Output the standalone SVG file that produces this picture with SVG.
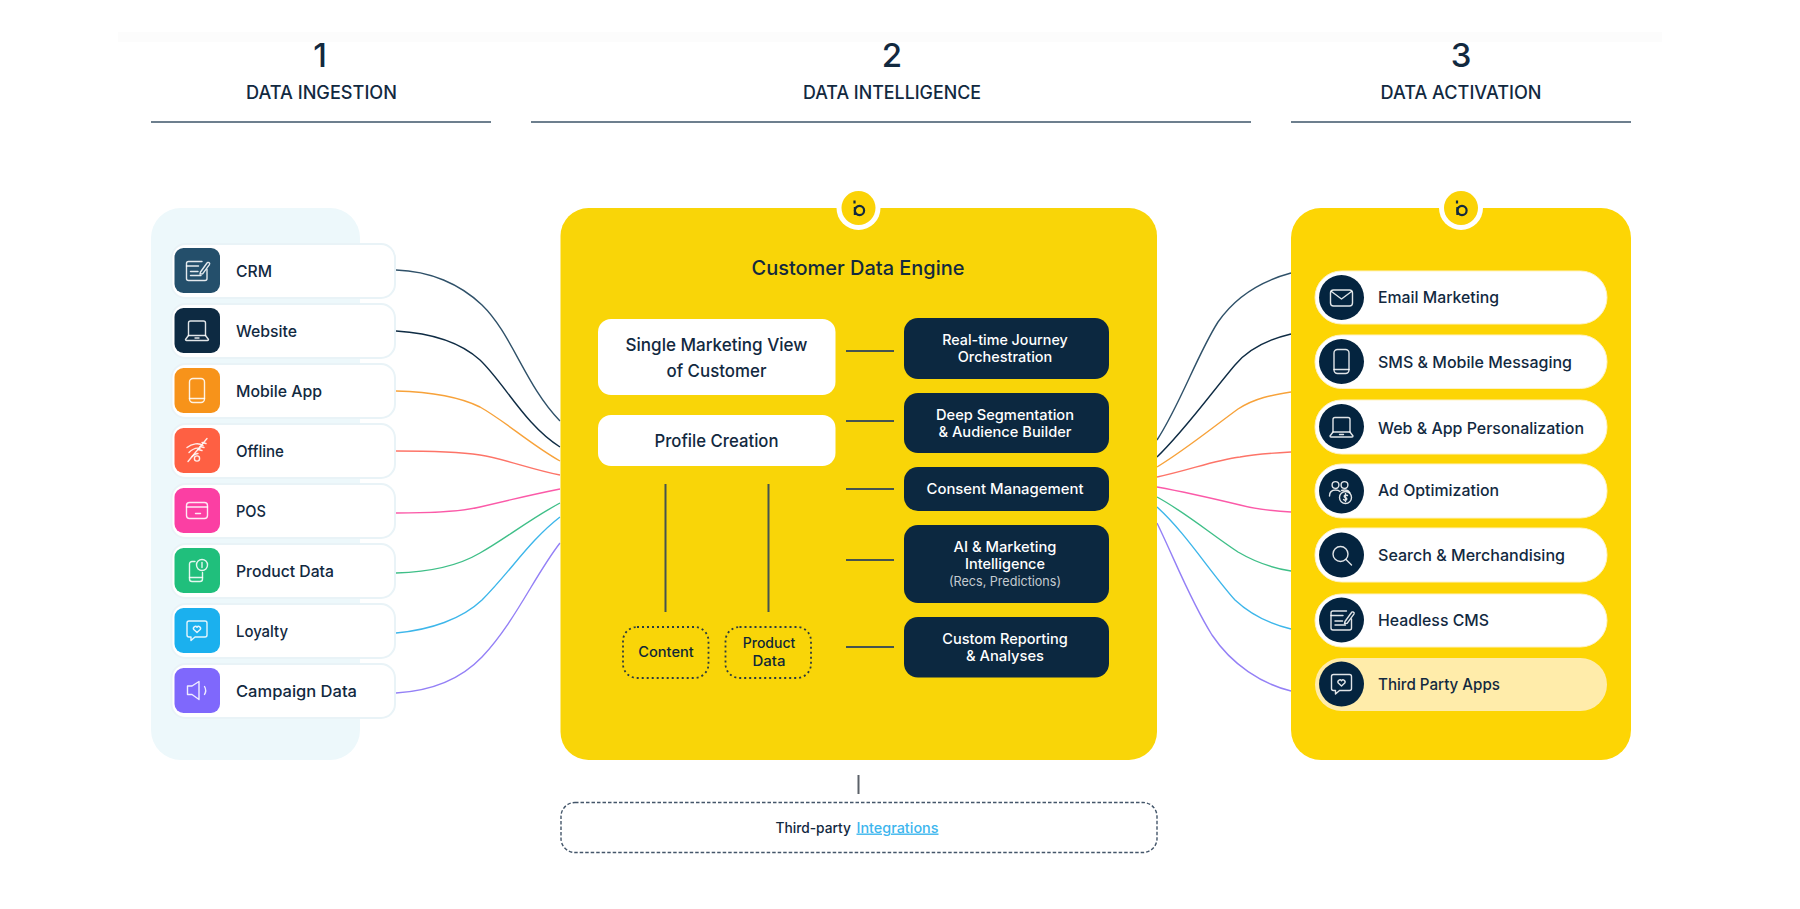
<svg xmlns="http://www.w3.org/2000/svg" xmlns:xlink="http://www.w3.org/1999/xlink" width="1800" height="909" viewBox="0 0 1800 909">
<style>
text{font-family:"Inter","Liberation Sans",sans-serif;font-weight:500;fill:#12293f}
.m{text-anchor:middle}
.num{font-size:33px}
.hd{font-size:18px}
.lb{font-size:16px}
.ttl{font-size:20px}
.wb{font-size:17.5px}
.dk{font-size:14.5px;fill:#fff}
.sm{font-size:14px;fill:#0f2738}
.hl{stroke:#6d7f8e;stroke-width:2;fill:none}
.card{fill:#fff;stroke:#e9f3f7;stroke-width:2}
.ico{fill:none;stroke:#fff;stroke-opacity:.88;stroke-width:1.4;stroke-linecap:round;stroke-linejoin:round}
.pill{fill:#fff;stroke:#fff3c4;stroke-width:1}
.dark{fill:#0c2840}
.wbox{fill:#fff}
.conn{fill:none;stroke-width:1.4}
.tick{stroke:#46544f;stroke-width:2;fill:none}
.dot{fill:none;stroke:#2b3a3f;stroke-width:1.8;stroke-dasharray:2 3}
</style>
<defs>
<g id="i-note" class="ico"><path d="M5 -9H-8.500a2 2 0 0 0-2 2V8a2 2 0 0 0 2 2H8a2 2 0 0 0 2-2V-1"/><path d="M-10.500 -4.500H1.500M-6.500 1H1M-6.500 5H4"/><path d="M3.500 1.500L10 -7.500a1.400 1.400 0 0 1 2.400 1.600L5.800 3.200L3 3.600Z"/></g>
<g id="i-laptop" class="ico"><path d="M-8.500 5V-7.500a2 2 0 0 1 2-2H6.500a2 2 0 0 1 2 2V5"/><path d="M-8.500 5H8.500L11.500 9a1 1 0 0 1-1 1H-10.500a1 1 0 0 1-1-1Z"/><path d="M-2 7.500H2"/></g>
<g id="i-phone" class="ico"><rect x="-7.500" y="-12" width="15" height="24" rx="3.500"/><path d="M-7.500 8H7.500"/></g>
<g id="i-wifi" class="ico"><path d="M-10 -3C-5 -7 2 -8 6 -5M-8 2C-4 -2 0 -3 3 -2M-5 6C-3 4 -1 3 1 3"/><path d="M-9 11L10 -12"/><path d="M5 -8L9 -7M3 -4L7 -3M1 -1L5 0"/><circle cx="0" cy="8" r="2.600"/></g>
<g id="i-card" class="ico"><rect x="-10.500" y="-8" width="21" height="16" rx="3"/><path d="M-10.500 -3.500H10.500M-1.500 3H3.500"/></g>
<g id="i-prod" class="ico"><path d="M-2 -9H-5a2.500 2.500 0 0 0-2.500 2.500V8.500A2.500 2.500 0 0 0-5 11H3A2.500 2.500 0 0 0 5.500 8.500V2"/><path d="M-7.500 7H5.500"/><circle cx="5" cy="-5.500" r="5.500"/><path d="M5 -8V-3"/></g>
<g id="i-chat" class="ico"><path d="M-8 -9.500H8a2 2 0 0 1 2 2V4.500a2 2 0 0 1-2 2H-2L-6 10V6.500H-8a2 2 0 0 1-2-2V-7.500a2 2 0 0 1 2-2Z"/><path d="M0 2L-3.200 -1A1.800 1.800 0 0 1 0 -3.200A1.800 1.800 0 0 1 3.200 -1Z"/></g>
<g id="i-speak" class="ico"><path d="M2 -9L-5 -4.500H-9.500V4L-5 4L2 9Z"/><path d="M7.500 -4C9 -1.500 9 1.500 7.500 4"/></g>
<g id="i-mail" class="ico"><rect x="-11" y="-8" width="22" height="16" rx="3"/><path d="M-10 -6.500L0 1L10 -6.500"/></g>
<g id="i-search" class="ico"><circle cx="-1" cy="-1" r="7.500"/><path d="M4.500 4.500L10 10"/></g>
<g id="i-ppl" class="ico"><circle cx="-5" cy="-8" r="3.400"/><circle cx="4" cy="-8" r="3.400"/><path d="M-11 3C-11 -1 -8.500 -3 -5 -3C-3 -3 -1.500 -2.500 -0.500 -1.500M1 -2.500C2 -3 3 -3 4 -3C6.500 -3 8.500 -2 9.500 0"/><circle cx="5" cy="4.500" r="6"/><path d="M7 2.500C5 1.500 3 2.500 4 4C5 5 7 5 6 6.800C5 7.800 3.500 7 3 6.500M5 .500V8.500"/></g>
<g id="logo"><circle cx="0" cy="0" r="22" fill="#fff"/><circle cx="0" cy="0" r="17" fill="#fbd307"/><circle cx="1" cy="2.500" r="4.600" fill="none" stroke="#12293f" stroke-width="2.200"/><path d="M-4 -7.500V-4.500M-3.600 -1V7" stroke="#12293f" stroke-width="2.200" fill="none"/></g>
</defs>
<rect width="1800" height="909" fill="#fff"/>
<rect x="118" y="32" width="1544" height="10" fill="#fcfcfc"/>
<g id="header-1"><text class="num m" x="320" y="67">1</text><text class="hd m" x="321.500" y="98.500" textLength="151" lengthAdjust="spacingAndGlyphs">DATA INGESTION</text><path class="hl" d="M151 122H491"/></g>
<g id="header-2"><text class="num m" x="892" y="67">2</text><text class="hd m" x="892" y="98.500" textLength="178" lengthAdjust="spacingAndGlyphs">DATA INTELLIGENCE</text><path class="hl" d="M531 122H1251"/></g>
<g id="header-3"><text class="num m" x="1461" y="67">3</text><text class="hd m" x="1461" y="98.500" textLength="161" lengthAdjust="spacingAndGlyphs">DATA ACTIVATION</text><path class="hl" d="M1291 122H1631"/></g>
<g id="connectors" class="conn">
<path stroke="#2f5169" d="M396 270C430 271 460 284 482 305C512 334 525 385 560 421"/>
<path stroke="#0f2c44" d="M396 331C430 333 460 342 480 360C505 384 525 425 560 447"/>
<path stroke="#f7a23a" d="M396 391C430 392 458 396 480 407C505 421 530 444 560 461"/>
<path stroke="#fd7468" d="M396 451C430 451 460 452 480 455C505 459 530 469 560 475"/>
<path stroke="#fb5aa8" d="M396 513C430 513 460 512 480 507C505 501 530 495 560 489"/>
<path stroke="#3fbf88" d="M396 573C430 572 458 566 480 553C505 539 530 519 560 503"/>
<path stroke="#3db6ea" d="M396 633C430 630 462 619 482 600C510 572 530 540 560 517"/>
<path stroke="#9480f6" d="M396 693C430 691 460 680 482 657C515 622 535 575 560 543"/>
<path stroke="#2f5169" d="M1157 440C1180 405 1197 355 1218 322C1238 293 1265 280 1291 273"/>
<path stroke="#0f2c44" d="M1157 457C1185 430 1212 392 1235 365C1250 347 1270 339 1291 334"/>
<path stroke="#f7a23a" d="M1157 467C1185 450 1212 428 1238 409C1255 398 1272 395 1291 392"/>
<path stroke="#fd7468" d="M1157 477C1190 470 1215 460 1240 457C1255 454 1272 453 1291 452"/>
<path stroke="#fb5aa8" d="M1157 487C1190 493 1215 499 1240 505C1255 509 1272 511 1291 512"/>
<path stroke="#3fbf88" d="M1157 497C1185 512 1212 535 1238 552C1255 562 1272 568 1291 571"/>
<path stroke="#3db6ea" d="M1157 507C1185 532 1210 572 1235 600C1250 614 1270 624 1291 629"/>
<path stroke="#9480f6" d="M1157 523C1175 560 1190 600 1212 635C1232 665 1262 684 1291 691"/>
<path stroke="#5b6168" stroke-width="2" d="M858.500 775V794"/>
</g>
<rect id="panel-ingestion" x="151" y="208" width="209" height="552" rx="30" fill="#edf8fb"/>
<g id="n-crm"><rect class="card" x="171.500" y="244" width="223.500" height="54" rx="14"/><rect x="174.500" y="248" width="45.500" height="45" rx="9" fill="#244f6b"/><use href="#i-note" x="197" y="270.500"/><text class="lb" x="236" y="276.800" textLength="36" lengthAdjust="spacingAndGlyphs">CRM</text></g>
<g id="n-website"><rect class="card" x="171.500" y="304" width="223.500" height="54" rx="14"/><rect x="174.500" y="308" width="45.500" height="45" rx="9" fill="#0d2a42"/><use href="#i-laptop" x="197" y="330.500"/><text class="lb" x="236" y="336.800" textLength="61" lengthAdjust="spacingAndGlyphs">Website</text></g>
<g id="n-mobile"><rect class="card" x="171.500" y="364" width="223.500" height="54" rx="14"/><rect x="174.500" y="368" width="45.500" height="45" rx="9" fill="#f7931a"/><use href="#i-phone" x="197" y="390.500"/><text class="lb" x="236" y="396.800" textLength="86" lengthAdjust="spacingAndGlyphs">Mobile App</text></g>
<g id="n-offline"><rect class="card" x="171.500" y="424" width="223.500" height="54" rx="14"/><rect x="174.500" y="428" width="45.500" height="45" rx="9" fill="#fe6043"/><use href="#i-wifi" x="197" y="450.500"/><text class="lb" x="236" y="456.800" textLength="48" lengthAdjust="spacingAndGlyphs">Offline</text></g>
<g id="n-pos"><rect class="card" x="171.500" y="484" width="223.500" height="54" rx="14"/><rect x="174.500" y="488" width="45.500" height="45" rx="9" fill="#fb3fa3"/><use href="#i-card" x="197" y="510.500"/><text class="lb" x="236" y="516.800" textLength="30" lengthAdjust="spacingAndGlyphs">POS</text></g>
<g id="n-product"><rect class="card" x="171.500" y="544" width="223.500" height="54" rx="14"/><rect x="174.500" y="548" width="45.500" height="45" rx="9" fill="#20bf7c"/><use href="#i-prod" x="197" y="570.500"/><text class="lb" x="236" y="576.800" textLength="98" lengthAdjust="spacingAndGlyphs">Product Data</text></g>
<g id="n-loyalty"><rect class="card" x="171.500" y="604" width="223.500" height="54" rx="14"/><rect x="174.500" y="608" width="45.500" height="45" rx="9" fill="#1bb0ee"/><use href="#i-chat" x="197" y="630.500"/><text class="lb" x="236" y="636.800" textLength="52" lengthAdjust="spacingAndGlyphs">Loyalty</text></g>
<g id="n-campaign"><rect class="card" x="171.500" y="664" width="223.500" height="54" rx="14"/><rect x="174.500" y="668" width="45.500" height="45" rx="9" fill="#7f68fc"/><use href="#i-speak" x="197" y="690.500"/><text class="lb" x="236" y="696.800" textLength="121" lengthAdjust="spacingAndGlyphs">Campaign Data</text></g>
<g id="engine"><rect x="560.500" y="208" width="596.500" height="552" rx="28" fill="#f9d508"/><use href="#logo" x="858.500" y="208"/><text class="ttl m" x="858" y="275" textLength="213" lengthAdjust="spacingAndGlyphs">Customer Data Engine</text></g>
<g id="n-smv"><rect class="wbox" x="598" y="319" width="237.500" height="76" rx="13"/><text class="wb m" x="716.500" y="351" textLength="182" lengthAdjust="spacingAndGlyphs">Single Marketing View</text><text class="wb m" x="716.500" y="376.500" textLength="100" lengthAdjust="spacingAndGlyphs">of Customer</text></g>
<g id="n-profile"><rect class="wbox" x="598" y="415" width="237.500" height="51" rx="13"/><text class="wb m" x="716.500" y="446.500" textLength="124" lengthAdjust="spacingAndGlyphs">Profile Creation</text></g>
<g id="engine-links"><path class="tick" d="M846 351H894M846 421H894M846 489H894M846 560H894M846 647H894"/><path class="tick" stroke-width="1.600" d="M665.500 484V612M768.500 484V612"/></g>
<g id="n-rt"><rect class="dark" x="904" y="318" width="205" height="61" rx="14"/><text class="dk m" x="1005" y="344.500" textLength="125.500" lengthAdjust="spacingAndGlyphs">Real-time Journey</text><text class="dk m" x="1005" y="361.500" textLength="94.500" lengthAdjust="spacingAndGlyphs">Orchestration</text></g>
<g id="n-seg"><rect class="dark" x="904" y="393" width="205" height="60" rx="14"/><text class="dk m" x="1005" y="419.500" textLength="138" lengthAdjust="spacingAndGlyphs">Deep Segmentation</text><text class="dk m" x="1005" y="436.500" textLength="133" lengthAdjust="spacingAndGlyphs">&amp; Audience Builder</text></g>
<g id="n-consent"><rect class="dark" x="904" y="467" width="205" height="44" rx="14"/><text class="dk m" x="1005" y="494" textLength="157" lengthAdjust="spacingAndGlyphs">Consent Management</text></g>
<g id="n-ai"><rect class="dark" x="904" y="525" width="205" height="78" rx="14"/><text class="dk m" x="1005" y="551.500" textLength="103" lengthAdjust="spacingAndGlyphs">AI &amp; Marketing</text><text class="dk m" x="1005" y="568.500" textLength="80" lengthAdjust="spacingAndGlyphs">Intelligence</text><text class="dk m" x="1005" y="586" textLength="112" lengthAdjust="spacingAndGlyphs" style="font-size:13px;font-weight:400;fill:#c5cbd0">(Recs, Predictions)</text></g>
<g id="n-report"><rect class="dark" x="904" y="617" width="205" height="60.500" rx="14"/><text class="dk m" x="1005" y="643.500" textLength="125.500" lengthAdjust="spacingAndGlyphs">Custom Reporting</text><text class="dk m" x="1005" y="660.500" textLength="78" lengthAdjust="spacingAndGlyphs">&amp; Analyses</text></g>
<g id="n-content"><rect class="dot" x="623" y="627" width="85.500" height="51" rx="14"/><text class="sm m" x="666" y="656.500" textLength="55.500" lengthAdjust="spacingAndGlyphs">Content</text></g>
<g id="n-pdata"><rect class="dot" x="725.500" y="627" width="85.500" height="51" rx="14"/><text class="sm m" x="769" y="648" textLength="52.500" lengthAdjust="spacingAndGlyphs">Product</text><text class="sm m" x="769" y="666" textLength="33" lengthAdjust="spacingAndGlyphs">Data</text></g>
<g id="n-thirdparty"><rect x="561" y="802.500" width="596" height="50" rx="14" fill="#fff" stroke="#44566a" stroke-width="1.400" stroke-dasharray="3.500 2"/><text x="775.500" y="832.500" textLength="75.500" lengthAdjust="spacingAndGlyphs" style="font-size:14px">Third-party</text><text x="856.500" y="832.500" textLength="82" lengthAdjust="spacingAndGlyphs" text-decoration="underline" style="font-size:14px;fill:#3db6ee">Integrations</text></g>
<g id="panel-activation"><rect x="1291" y="208" width="340" height="552" rx="30" fill="#fdd504"/><use href="#logo" x="1461" y="208"/></g>
<g id="n-email"><rect class="pill" x="1315" y="271" width="292" height="53" rx="26.500"/><circle cx="1341.500" cy="297.500" r="22.500" fill="#04243f"/><use href="#i-mail" x="1341.500" y="298"/><text class="lb" x="1378" y="303" textLength="121" lengthAdjust="spacingAndGlyphs">Email Marketing</text></g>
<g id="n-sms"><rect class="pill" x="1315" y="335" width="292" height="53.500" rx="26.500"/><circle cx="1341.500" cy="361.500" r="22.500" fill="#04243f"/><use href="#i-phone" x="1341.500" y="361.500"/><text class="lb" x="1378" y="368" textLength="194" lengthAdjust="spacingAndGlyphs">SMS &amp; Mobile Messaging</text></g>
<g id="n-web"><rect class="pill" x="1315" y="400" width="292" height="54" rx="26.500"/><circle cx="1341.500" cy="426.500" r="22.500" fill="#04243f"/><use href="#i-laptop" x="1341.500" y="427"/><text class="lb" x="1378" y="433.500" textLength="206" lengthAdjust="spacingAndGlyphs">Web &amp; App Personalization</text></g>
<g id="n-ad"><rect class="pill" x="1315" y="464" width="292" height="54" rx="26.500"/><circle cx="1341.500" cy="491" r="22.500" fill="#04243f"/><use href="#i-ppl" x="1340.500" y="493"/><text class="lb" x="1378" y="496" textLength="121" lengthAdjust="spacingAndGlyphs">Ad Optimization</text></g>
<g id="n-search"><rect class="pill" x="1315" y="528" width="292" height="54" rx="26.500"/><circle cx="1341.500" cy="555" r="22.500" fill="#04243f"/><use href="#i-search" x="1341.500" y="555"/><text class="lb" x="1378" y="560.500" textLength="187" lengthAdjust="spacingAndGlyphs">Search &amp; Merchandising</text></g>
<g id="n-cms"><rect class="pill" x="1315" y="594" width="292" height="53" rx="26.500"/><circle cx="1341.500" cy="620" r="22.500" fill="#04243f"/><use href="#i-note" x="1341.500" y="620"/><text class="lb" x="1378" y="625.500" textLength="111" lengthAdjust="spacingAndGlyphs">Headless CMS</text></g>
<g id="n-apps"><rect x="1315" y="658" width="292" height="53" rx="26.500" fill="#ffecaa"/><circle cx="1341.500" cy="684" r="22.500" fill="#04243f"/><use href="#i-chat" x="1341.500" y="684"/><text class="lb" x="1378" y="690" textLength="122" lengthAdjust="spacingAndGlyphs">Third Party Apps</text></g>
</svg>
